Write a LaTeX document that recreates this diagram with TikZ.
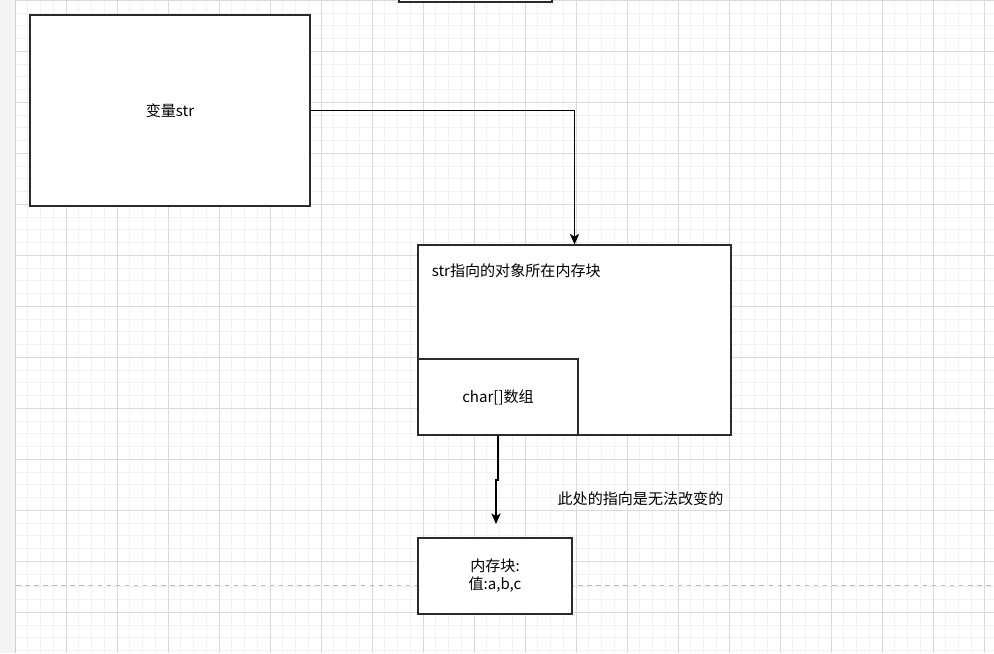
\documentclass[tikz,border=0pt]{standalone}
\usepackage{fontspec}
\newfontfamily\cjk{Noto Sans CJK SC}
\usetikzlibrary{arrows.meta}
\definecolor{gridmajor}{HTML}{DADADA}
\definecolor{gridminor}{HTML}{F2F2F2}
\definecolor{panel}{HTML}{F3F4F6}
\definecolor{dashgray}{HTML}{BDBDBD}
\definecolor{stroke}{HTML}{2B2B2B}
\tikzset{
  minorline/.style={draw=gridminor, line width=0.75pt},
  majorline/.style={draw=gridmajor, line width=0.75pt},
  box/.style={draw=stroke, fill=white, line width=0.85pt, inner sep=0pt},
  lbl/.style={font=\cjk\fontsize{11.3pt}{14pt}\selectfont, text=black, inner sep=0pt},
  arr/.style={draw=black, line width=0.8pt, -{Stealth[length=8pt,width=7pt,inset=2.2pt]}},
}
\begin{document}
\begin{tikzpicture}[x={(0.75pt,0)}, y={(0,-0.75pt)}]
\useasboundingbox (0,0) rectangle (994,653);
% background
\fill[white] (0,0) rectangle (994,653);
\fill[panel] (0,0) rectangle (15,653);
% grid
\foreach \i in {0,...,77} { \draw[minorline] ({15+12.75*\i},0) -- ({15+12.75*\i},653); }
\foreach \i in {0,...,51} { \draw[minorline] (15,{0.3+12.75*\i}) -- (994,{0.3+12.75*\i}); }
\foreach \i in {0,...,19} { \draw[majorline] ({15+51*\i},0) -- ({15+51*\i},653); }
\foreach \i in {0,...,12} { \draw[majorline] (15,{0.3+51*\i}) -- (994,{0.3+51*\i}); }
\draw[draw=black!18, line width=1pt] (15.5,0) -- (15.5,653);
% page break dashed line
\draw[dashgray, line width=0.9pt, dash pattern=on 3.4pt off 3.4pt] (16,585.7) -- (994,585.7);
% partial box at the top
\node[box, minimum width={153*0.75pt}, minimum height={62*0.75pt}] (top) at (475.5,-29) {};
% box A
\node[box, minimum width={280*0.75pt}, minimum height={191*0.75pt}] (A) at (170,110.5) {};
\node[lbl] (Alabel) at (A.center) {变量str};
% box B
\node[box, minimum width={313*0.75pt}, minimum height={190*0.75pt}] (B) at (574.5,340) {};
\node[lbl, anchor=west] (Blabel) at (431.5,270.5) {str指向的对象所在内存块};
% box C
\node[box, minimum width={160*0.75pt}, minimum height={76*0.75pt}] (C) at (498,397) {};
\node[lbl] (Clabel) at (C.center) {char[]数组};
% box D
\node[box, minimum width={154*0.75pt}, minimum height={76*0.75pt}] (D) at (495,576) {};
\node[lbl, align=center] (Dlabel) at (495,575.5) {内存块:\\[-0.5pt]值:a,b,c};
% note
\node[lbl] (note) at (640.5,499) {此处的指向是无法改变的};
% connectors
\draw[arr] (A.east) -| (B.north);
\coordinate (jog) at (0,480);
\coordinate (tip) at (496,524);
\draw[arr] (C.south) -- (C.south |- jog) -- (tip |- jog) -- (tip);
\end{tikzpicture}
\end{document}
